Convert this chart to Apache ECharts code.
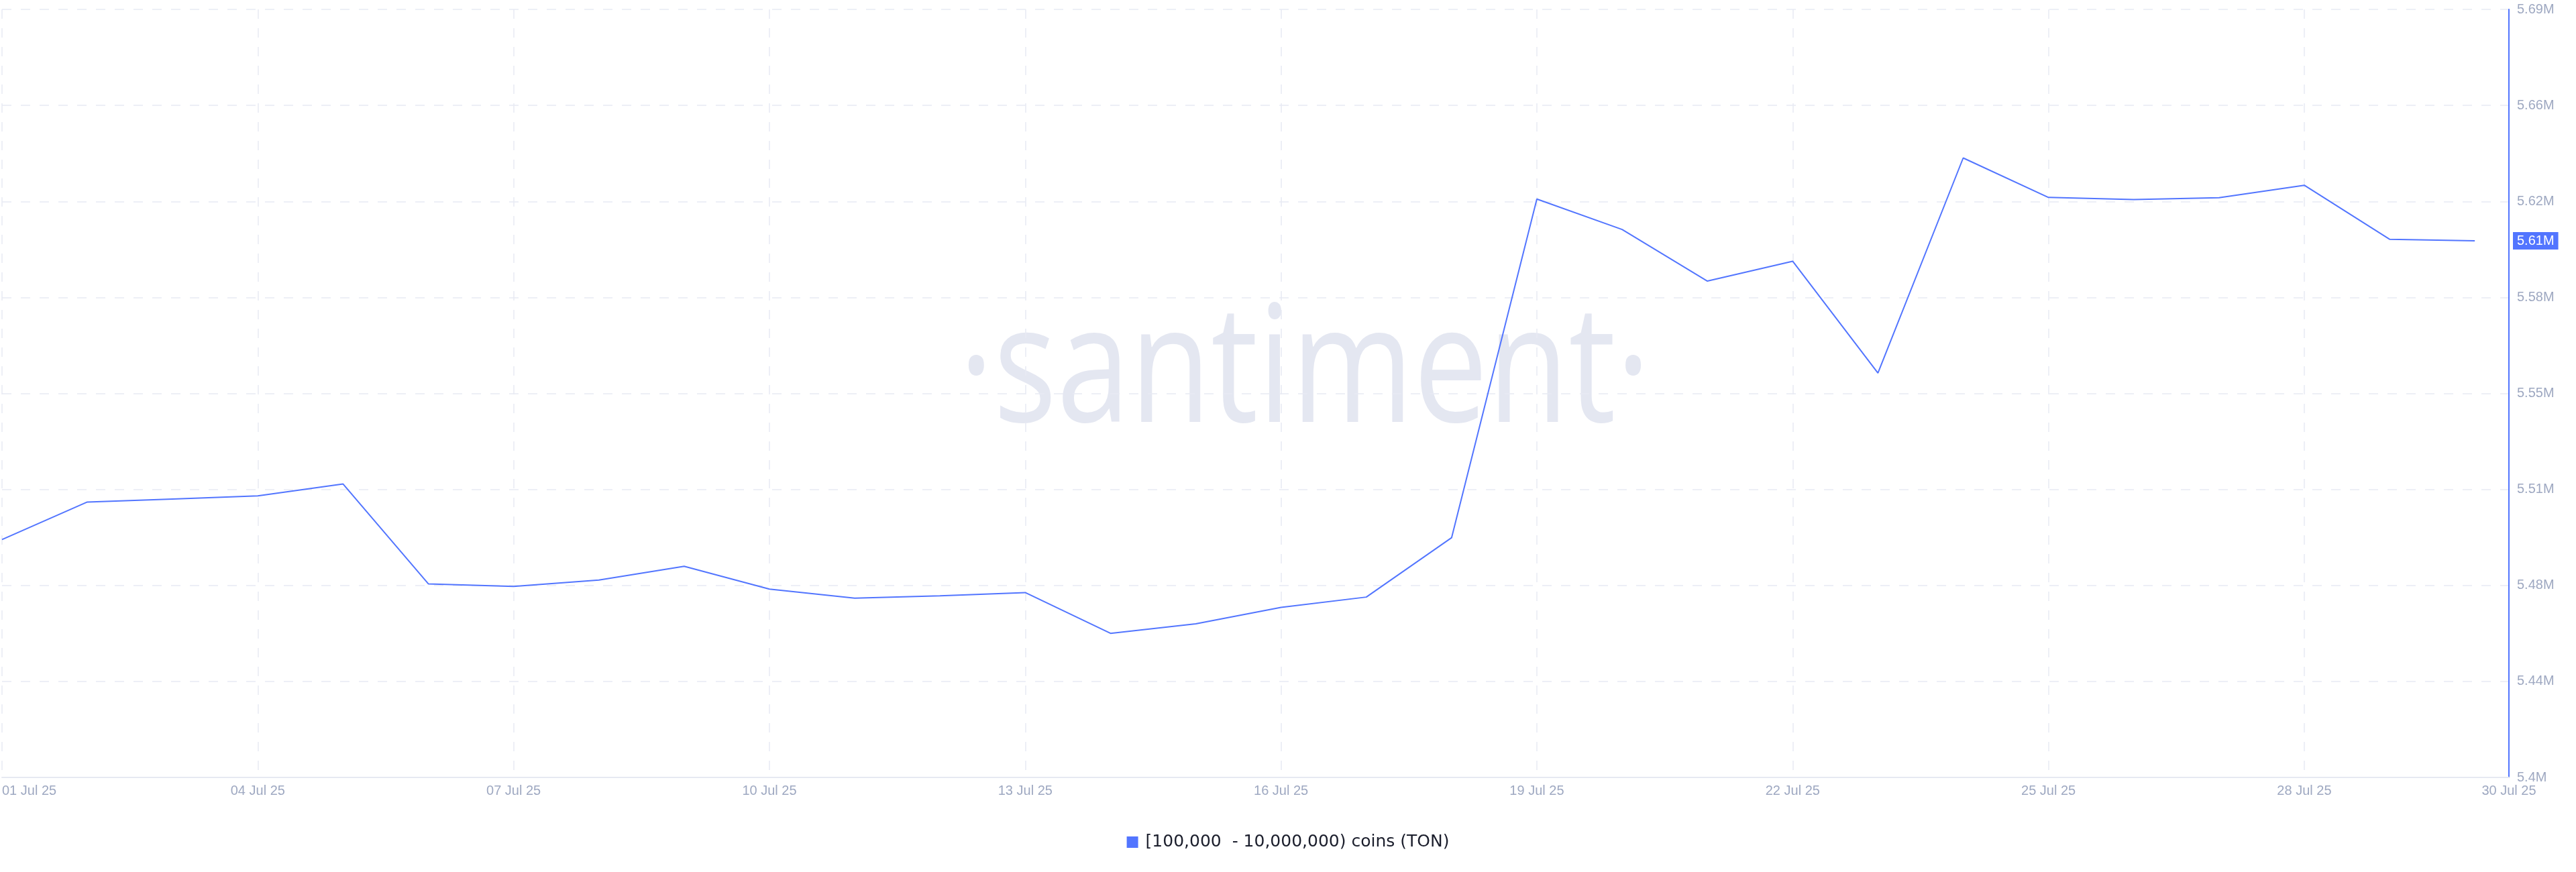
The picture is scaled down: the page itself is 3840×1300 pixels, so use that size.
<!DOCTYPE html>
<html>
<head>
<meta charset="utf-8">
<script src="https://cdn.jsdelivr.net/npm/echarts@6/dist/echarts.min.js"></script>
<style>
  html, body { margin: 0; padding: 0; background: #ffffff; }
  #chart { width: 3840px; height: 1300px; }
</style>
</head>
<body>
<div id="chart"></div>
<script>
// ---- data ----
const dates = [
  '01 Jul 25','02 Jul 25','03 Jul 25','04 Jul 25','05 Jul 25','06 Jul 25','07 Jul 25','08 Jul 25',
  '09 Jul 25','10 Jul 25','11 Jul 25','12 Jul 25','13 Jul 25','14 Jul 25','15 Jul 25','16 Jul 25',
  '17 Jul 25','18 Jul 25','19 Jul 25','20 Jul 25','21 Jul 25','22 Jul 25','23 Jul 25','24 Jul 25',
  '25 Jul 25','26 Jul 25','27 Jul 25','28 Jul 25','29 Jul 25','30 Jul 25'
];
const holdings = [
  5492800, 5507000, 5508100, 5509300, 5513800, 5476100, 5475100, 5477500,
  5482700, 5474100, 5470700, 5471600, 5472800, 5457400, 5461000, 5467200,
  5471100, 5493500, 5621400, 5609900, 5590400, 5597900, 5555700, 5636900,
  5622000, 5621200, 5621900, 5626600, 5606200, 5605600
];
const seriesName = '[100,000  - 10,000,000) coins (TON)';
const yMin = 5403000;
const yMax = 5693000;
const yStep = 36250;
const xStep = 3;
const xPad = 0.4;

function fmtM(v) {
  const r = Math.round(v / 1e4) / 100;
  return String(r) + 'M';
}

const points = holdings.map((v, i) => [i, v]);

const chart = echarts.init(document.getElementById('chart'), null, { renderer: 'canvas' });
const gridColor = '#e8eaf3';
const labelColor = '#9ea8c1';
const blue = '#5275ff';

chart.setOption({
  animation: false,
  backgroundColor: '#ffffff',
  graphic: [{
    type: 'text',
    x: 1945,
    y: 560,
    scaleX: 0.81,
    z: -10,
    silent: true,
    style: {
      text: '\u00B7santiment\u00B7',
      fontFamily: '"Open Sans"',
      fontSize: 243,
      fill: '#e4e7f1',
      textAlign: 'center',
      textVerticalAlign: 'middle'
    }
  }],
  grid: { left: 0, right: 100, top: 14, bottom: 141, containLabel: false },
  legend: {
    top: 1238,
    left: 'center',
    icon: 'rect',
    itemWidth: 17,
    itemHeight: 17,
    textStyle: { fontSize: 25, color: '#1b1e2c', fontFamily: '"DejaVu Sans"', padding: [0, 0, 0, 6] },
    data: [seriesName]
  },
  xAxis: {
    type: 'value',
    min: 0,
    max: dates.length - 1 + xPad,
    interval: xStep,
    axisLine: { show: true, onZero: false, lineStyle: { color: '#e6e9f2', width: 2 } },
    axisTick: { show: false },
    splitLine: { show: true, lineStyle: { color: gridColor, width: 1.5, type: [14, 14] } },
    axisLabel: {
      formatter: v => dates[Math.round(v)] || '',
      color: labelColor,
      fontSize: 20,
      fontFamily: '"Liberation Sans", Arial, sans-serif',
      margin: 10,
      alignMinLabel: 'left',
      showMinLabel: true,
      showMaxLabel: true
    }
  },
  yAxis: {
    type: 'value',
    position: 'right',
    min: yMin,
    max: yMax,
    interval: yStep,
    axisLine: { show: true, onZero: false, lineStyle: { color: blue, width: 2 } },
    axisTick: { show: false },
    splitLine: { show: true, lineStyle: { color: gridColor, width: 1.5, type: [14, 14] } },
    axisLabel: {
      formatter: v => fmtM(v),
      color: labelColor,
      fontSize: 20,
      fontFamily: '"Liberation Sans", Arial, sans-serif',
      margin: 12
    }
  },
  series: [{
    name: seriesName,
    type: 'line',
    data: points,
    showSymbol: false,
    symbol: 'none',
    color: blue,
    lineStyle: { color: blue, width: 2 },
    z: 3,
    markLine: {
      silent: true,
      symbol: ['none', 'none'],
      lineStyle: { color: 'rgba(0,0,0,0)', width: 1, type: 'solid' },
      label: {
        show: true,
        position: 'end',
        distance: 6,
        formatter: p => fmtM(p.value),
        backgroundColor: blue,
        color: '#ffffff',
        padding: [3, 6],
        fontSize: 20,
        fontFamily: '"Liberation Sans", Arial, sans-serif'
      },
      data: [{ yAxis: holdings[holdings.length - 1] }]
    }
  }]
});
</script>
</body>
</html>
